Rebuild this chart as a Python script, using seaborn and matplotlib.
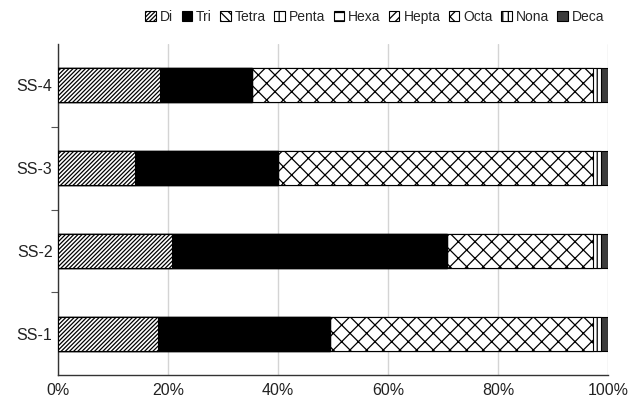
import matplotlib
matplotlib.use("Agg")
import matplotlib.pyplot as plt
import matplotlib.patches as mpatches
import seaborn as sns
import numpy as np
import pandas as pd

samples = ["SS-4", "SS-3", "SS-2", "SS-1"]
series = ["Di", "Tri", "Tetra", "Penta", "Hexa", "Hepta", "Octa", "Nona", "Deca"]
Di = [18.5, 14.0, 20.7, 18.2]
Tri = [16.7, 26.0, 50.0, 31.3]
Tetra = [0.0, 0.0, 0.0, 0.0]
Penta = [0.0, 0.0, 0.0, 0.0]
Hexa = [0.0, 0.0, 0.0, 0.0]
Hepta = [0.0, 0.0, 0.0, 0.0]
Octa = [62.1, 57.3, 26.6, 47.8]
Nona = [1.4, 1.4, 1.4, 1.4]
Deca = [1.3, 1.3, 1.3, 1.3]
xticks = [0, 20, 40, 60, 80, 100]

values = [Di, Tri, Tetra, Penta, Hexa, Hepta, Octa, Nona, Deca]
styles = {
    "Di": ("white", "////////"),
    "Tri": ("black", ""),
    "Tetra": ("white", "\\\\\\\\"),
    "Penta": ("white", "||"),
    "Hexa": ("white", "--"),
    "Hepta": ("white", "////"),
    "Octa": ("white", "xx"),
    "Nona": ("white", "|||"),
    "Deca": ("#3c3c3c", ""),
}

sns.set_theme(style="white")
plt.rcParams["font.family"] = ["Liberation Sans", "DejaVu Sans"]
plt.rcParams["hatch.linewidth"] = 0.9
plt.rcParams["hatch.color"] = "black"

df = pd.DataFrame({"sample": samples})
cum = np.cumsum(np.array(values), axis=0)
for i, name in enumerate(series):
    df[name] = cum[i]

fig = plt.figure(figsize=(6.28, 3.99), dpi=100)
ax = fig.add_axes([58 / 628, 24 / 399, 550 / 628, 331 / 399])

for i in range(len(series) - 1, -1, -1):
    name = series[i]
    fc, hatch = styles[name]
    n_before = len(ax.patches)
    sns.barplot(data=df, x=name, y="sample", order=samples, orient="h",
                color=fc, width=0.41, ax=ax, saturation=1, zorder=3,
                edgecolor="black", linewidth=0.8)
    for p in ax.patches[n_before:]:
        p.set_facecolor(fc)
        p.set_hatch(hatch)
        p.set_edgecolor("black")

ax.set_xlim(0, 100)
ax.set_ylim(3.5, -0.5)
ax.set_xticks(xticks)
ax.set_xticklabels([f"{t}%" for t in xticks], fontsize=11.5, color="#222222")
ax.set_yticks(range(len(samples)))
ax.set_yticklabels(samples, fontsize=11.5, color="#222222")
ax.set_yticks([0.5, 1.5, 2.5], minor=True)
ax.tick_params(axis="y", which="major", length=0, pad=4)
ax.tick_params(axis="y", which="minor", length=5, width=0.8, color="#555555", left=True)
ax.tick_params(axis="x", length=0, pad=6)
ax.set_xlabel("")
ax.set_ylabel("")
ax.grid(axis="x", color="#d4d4d4", linewidth=1, zorder=0)
ax.set_axisbelow(True)
for s in ["top", "right"]:
    ax.spines[s].set_visible(False)
for s in ["left", "bottom"]:
    ax.spines[s].set_color("#333333")
    ax.spines[s].set_linewidth(1.0)

handles = []
for name in series:
    fc, hatch = styles[name]
    handles.append(mpatches.Patch(facecolor=fc, edgecolor="black", hatch=hatch, label=name, linewidth=0.8))
fig.legend(handles=handles, loc="center", bbox_to_anchor=(375 / 628, 1 - 17 / 399), ncol=9,
           frameon=False, fontsize=10, handlelength=0.75, handleheight=0.75,
           handletextpad=0.3, columnspacing=0.6, borderaxespad=0)

fig.savefig("out.png", dpi=100)
